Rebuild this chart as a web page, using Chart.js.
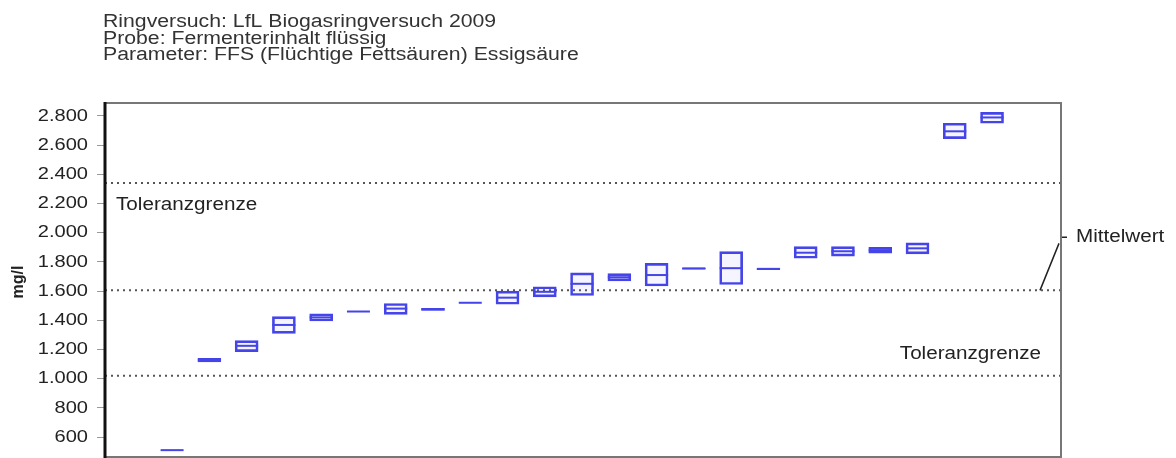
<!DOCTYPE html>
<html>
<head>
<meta charset="utf-8">
<script src="https://cdn.jsdelivr.net/npm/chart.js@4.4.1/dist/chart.umd.min.js"></script>
<style>
  html, body { margin: 0; padding: 0; background: #fff; }
  #wrap { position: relative; width: 1176px; height: 458px; }
</style>
</head>
<body>
<div id="wrap"><canvas id="ringChart" width="1176" height="458"></canvas></div>
<script>
// Ergebnisse je Labor (sortiert): Minimum, Maximum und Mittel der Wiederholungen in mg/l
const labs = [1, 2, 3, 4, 5, 6, 7, 8, 9, 10, 11, 12, 13, 14, 15, 16, 17, 18, 19, 20, 21, 22, 23];
const lowVals  = [510, 1115, 1185, 1310, 1395, 1460, 1440, 1468, 1520, 1510, 1560, 1570, 1670, 1635, 1750, 1645, 1746, 1825, 1840, 1860, 1855, 2645, 2750];
const highVals = [510, 1140, 1260, 1425, 1445, 1460, 1515, 1482, 1520, 1600, 1630, 1725, 1720, 1790, 1760, 1870, 1758, 1905, 1905, 1900, 1930, 2750, 2825];
const meanVals = [510, 1128, 1225, 1368, 1420, 1460, 1480, 1475, 1520, 1555, 1595, 1650, 1695, 1710, 1755, 1757, 1752, 1863, 1873, 1880, 1893, 2695, 2790];

// Referenzlinien
const mittelwert = 1605;
const toleranzOben = 2340;
const toleranzUnten = 1020;

const yTicks = [600, 800, 1000, 1200, 1400, 1600, 1800, 2000, 2200, 2400, 2600, 2800];
const titleLines = [
  'Ringversuch: LfL Biogasringversuch 2009',
  'Probe: Fermenterinhalt flüssig',
  'Parameter: FFS (Flüchtige Fettsäuren) Essigsäure'
];

const X_MIN = -0.8, X_MAX = 24.85;
const FONT = '"Liberation Sans", Arial, sans-serif';
const BLUE = '#4444e8';
const SX = 1.18; // Schrift etwas breiter ziehen

// Tausenderpunkt wie im deutschen Format
const fmt = v => v >= 1000 ? Math.floor(v / 1000) + '.' + String(v % 1000).padStart(3, '0') : String(v);

function wideText(ctx, text, x, y, align) {
  ctx.save();
  ctx.translate(x, y);
  ctx.scale(SX, 1);
  ctx.textAlign = align;
  ctx.fillText(text, 0, 0);
  ctx.restore();
}

const refLine = (val) => ({
  type: 'line',
  data: [{ x: X_MIN, y: val }, { x: X_MAX, y: val }],
  borderColor: '#555',
  borderWidth: 2,
  borderDash: [2, 4],
  pointRadius: 0,
  order: 3
});

// Rahmen, Beschriftungen und Titel
const overlay = {
  id: 'overlay',
  afterDraw(chart) {
    const { ctx, chartArea: a, scales: { y } } = chart;
    ctx.save();

    // Rahmen um die Zeichenfläche
    ctx.strokeStyle = '#777';
    ctx.lineWidth = 2;
    ctx.beginPath();
    ctx.moveTo(a.left, a.top);
    ctx.lineTo(a.right, a.top);
    ctx.lineTo(a.right, a.bottom);
    ctx.lineTo(a.left, a.bottom);
    ctx.stroke();
    ctx.strokeStyle = '#111';
    ctx.lineWidth = 3;
    ctx.beginPath();
    ctx.moveTo(a.left, a.top - 1);
    ctx.lineTo(a.left, a.bottom + 1);
    ctx.stroke();

    // Achsenbeschriftung
    ctx.fillStyle = '#222';
    ctx.font = '17px ' + FONT;
    ctx.textBaseline = 'middle';
    yTicks.forEach(v => wideText(ctx, fmt(v), 88, y.getPixelForValue(v), 'right'));

    ctx.save();
    ctx.translate(19, 282);
    ctx.rotate(-Math.PI / 2);
    ctx.font = 'bold 16px ' + FONT;
    ctx.textAlign = 'center';
    ctx.fillText('mg/l', 0, 0);
    ctx.restore();

    // Titelblock
    ctx.fillStyle = '#333';
    ctx.font = '18px ' + FONT;
    ctx.textBaseline = 'alphabetic';
    titleLines.forEach((t, i) => wideText(ctx, t, 103, 27 + i * 16.5, 'left'));

    // Toleranzgrenzen
    ctx.fillStyle = '#222';
    ctx.font = '17.5px ' + FONT;
    ctx.textBaseline = 'middle';
    wideText(ctx, 'Toleranzgrenze', a.left + 11, y.getPixelForValue(toleranzOben) + 22, 'left');
    wideText(ctx, 'Toleranzgrenze', a.right - 20, y.getPixelForValue(toleranzUnten) - 22, 'right');

    // Mittelwert mit Hinweislinie
    const ym = y.getPixelForValue(mittelwert);
    ctx.strokeStyle = '#222';
    ctx.lineWidth = 1.5;
    ctx.beginPath();
    ctx.moveTo(a.right - 21, ym);
    ctx.lineTo(a.right - 2, ym - 47);
    ctx.moveTo(a.right + 1, ym - 53);
    ctx.lineTo(a.right + 6, ym - 53);
    ctx.stroke();
    wideText(ctx, 'Mittelwert', a.right + 15, ym - 53, 'left');

    ctx.restore();
  }
};

new Chart(document.getElementById('ringChart'), {
  type: 'bar',
  data: {
    datasets: [
      {
        type: 'bar',
        data: labs.map((x, i) => ({ x: x, y: [lowVals[i], highVals[i]] })),
        backgroundColor: 'rgba(110,110,250,0.07)',
        borderColor: BLUE,
        borderWidth: 2,
        borderSkipped: false,
        barThickness: 23,
        order: 2
      },
      {
        type: 'scatter',
        data: labs.map((x, i) => ({ x: x, y: meanVals[i] })),
        pointStyle: 'line',
        pointRadius: 11.5,
        borderColor: BLUE,
        borderWidth: 2,
        order: 1
      },
      refLine(toleranzOben),
      refLine(mittelwert),
      refLine(toleranzUnten)
    ]
  },
  options: {
    responsive: false,
    animation: false,
    layout: { autoPadding: false, padding: { left: 0, right: 115, top: 103, bottom: 1 } },
    plugins: { legend: { display: false }, tooltip: { enabled: false }, title: { display: false } },
    scales: {
      x: {
        type: 'linear',
        display: false,
        offset: false,
        min: X_MIN,
        max: X_MAX
      },
      y: {
        min: 463,
        max: 2889,
        afterBuildTicks: (scale) => { scale.ticks = yTicks.map(v => ({ value: v })); },
        afterFit: (scale) => {
          scale.width = 105;
          scale.paddingTop = 0;
          scale.paddingBottom = 0;
        },
        border: { display: false },
        grid: { drawOnChartArea: false, drawTicks: true, tickLength: 8, color: '#999' },
        ticks: { display: false }
      }
    }
  },
  plugins: [overlay]
});
</script>
</body>
</html>
